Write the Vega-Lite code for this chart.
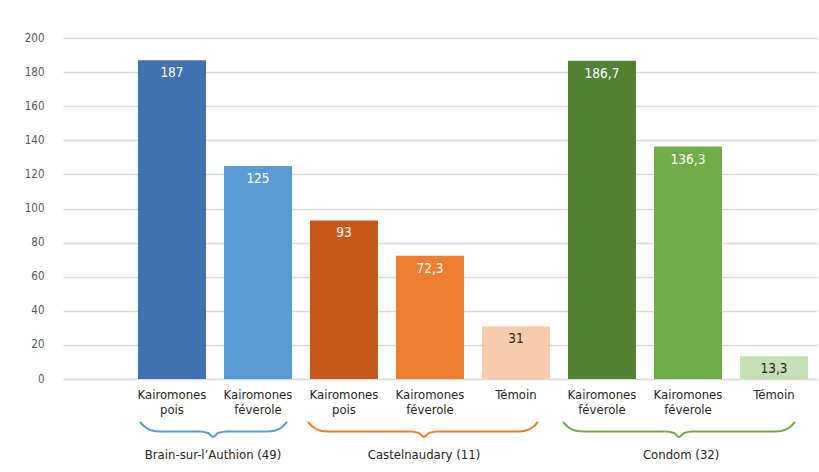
{
  "$schema": "https://vega.github.io/schema/vega-lite/v6.json",
  "width": 754,
  "height": 341,
  "autosize": {"type": "none"},
  "padding": {"left": 63, "top": 38, "right": 2, "bottom": 93},
  "background": "white",
  "config": {
    "view": {"stroke": null},
    "font": "DejaVu Sans Condensed, Roboto, sans-serif"
  },
  "datasets": {
    "bars": [
      {"cat": "Kairomones pois#1", "v": 187, "lbl": "187"},
      {"cat": "Kairomones féverole#2", "v": 125, "lbl": "125"},
      {"cat": "Kairomones pois#3", "v": 93, "lbl": "93"},
      {"cat": "Kairomones féverole#4", "v": 72.3, "lbl": "72,3"},
      {"cat": "Témoin#5", "v": 31, "lbl": "31"},
      {"cat": "Kairomones féverole#6", "v": 186.7, "lbl": "186,7"},
      {"cat": "Kairomones féverole#7", "v": 136.3, "lbl": "136,3"},
      {"cat": "Témoin#8", "v": 13.3, "lbl": "13,3"}
    ],
    "braces": [
      {"g": "B", "u": 0.128, "v": -25.2}, {"g": "B", "u": 0.186, "v": -28.2}, {"g": "B", "u": 0.267, "v": -30.2}, {"g": "B", "u": 0.360, "v": -30.8}, {"g": "B", "u": 0.814, "v": -30.8}, {"g": "B", "u": 0.919, "v": -31.7}, {"g": "B", "u": 0.977, "v": -34.0}, {"g": "B", "u": 1.035, "v": -31.7}, {"g": "B", "u": 1.140, "v": -30.8}, {"g": "B", "u": 1.605, "v": -30.8}, {"g": "B", "u": 1.698, "v": -30.2}, {"g": "B", "u": 1.779, "v": -28.2}, {"g": "B", "u": 1.837, "v": -25.2},
      {"g": "C", "u": 2.081, "v": -25.2}, {"g": "C", "u": 2.140, "v": -28.2}, {"g": "C", "u": 2.221, "v": -30.2}, {"g": "C", "u": 2.314, "v": -30.8}, {"g": "C", "u": 3.267, "v": -30.8}, {"g": "C", "u": 3.372, "v": -31.7}, {"g": "C", "u": 3.430, "v": -34.0}, {"g": "C", "u": 3.488, "v": -31.7}, {"g": "C", "u": 3.593, "v": -30.8}, {"g": "C", "u": 4.523, "v": -30.8}, {"g": "C", "u": 4.616, "v": -30.2}, {"g": "C", "u": 4.698, "v": -28.2}, {"g": "C", "u": 4.756, "v": -25.2},
      {"g": "D", "u": 5.047, "v": -25.2}, {"g": "D", "u": 5.105, "v": -28.2}, {"g": "D", "u": 5.186, "v": -30.2}, {"g": "D", "u": 5.279, "v": -30.8}, {"g": "D", "u": 6.233, "v": -30.8}, {"g": "D", "u": 6.337, "v": -31.7}, {"g": "D", "u": 6.395, "v": -34.0}, {"g": "D", "u": 6.453, "v": -31.7}, {"g": "D", "u": 6.558, "v": -30.8}, {"g": "D", "u": 7.512, "v": -30.8}, {"g": "D", "u": 7.605, "v": -30.2}, {"g": "D", "u": 7.686, "v": -28.2}, {"g": "D", "u": 7.744, "v": -25.2}
    ],
    "groups": [
      {"name": "Brain-sur-l’Authion (49)", "u": 0.977, "v": -44.6},
      {"name": "Castelnaudary (11)", "u": 3.43, "v": -44.6},
      {"name": "Condom (32)", "u": 6.42, "v": -44.6}
    ]
  },
  "layer": [
    {
      "data": {"name": "bars"},
      "encoding": {
        "x": {
          "field": "cat", "type": "nominal", "sort": null,
          "scale": {"paddingInner": 0.209, "paddingOuter": 0.488, "align": 0.893},
          "axis": {
            "title": null, "domain": false, "ticks": false,
            "labelAngle": 0, "labelFontSize": 13, "labelColor": "#262626",
            "labelPadding": 9, "labelLineHeight": 15, "labelBaseline": "top",
            "labelExpr": "split(split(datum.value, '#')[0], ' ')"
          }
        },
        "y": {
          "field": "v", "type": "quantitative",
          "scale": {"domain": [0, 200], "nice": false},
          "axis": {
            "title": null, "domain": false, "ticks": false,
            "values": [0, 20, 40, 60, 80, 100, 120, 140, 160, 180, 200],
            "gridColor": "#d9d9d9", "gridWidth": 1.5,
            "labelColor": "#595959", "labelFontSize": 11.5, "labelPadding": 19
          }
        }
      },
      "layer": [
        {
          "mark": {"type": "bar"},
          "encoding": {
            "color": {
              "field": "cat", "type": "nominal", "legend": null,
              "scale": {
                "domain": ["Kairomones pois#1", "Kairomones féverole#2", "Kairomones pois#3", "Kairomones féverole#4", "Témoin#5", "Kairomones féverole#6", "Kairomones féverole#7", "Témoin#8"],
                "range": ["#4271B1", "#5B9BD5", "#C55A1A", "#ED7D31", "#F8CBAD", "#548235", "#70AD47", "#C5E0B4"]
              }
            }
          }
        },
        {
          "mark": {"type": "text", "baseline": "middle", "dy": 13, "fontSize": 13.5},
          "encoding": {
            "text": {"field": "lbl"},
            "color": {"condition": {"test": "datum.v < 40", "value": "#262626"}, "value": "#ffffff"}
          }
        }
      ]
    },
    {
      "layer": [
        {
          "data": {"name": "braces"},
          "mark": {"type": "line", "interpolate": "monotone", "strokeWidth": 2},
          "encoding": {
            "x": {"field": "u", "type": "quantitative", "scale": {"domain": [0, 8], "range": [66, 754], "nice": false, "zero": false}, "axis": null},
            "y": {"field": "v", "type": "quantitative", "scale": {"domain": [0, 200], "nice": false}, "axis": null},
            "color": {"field": "g", "type": "nominal", "legend": null, "scale": {"domain": ["B", "C", "D"], "range": ["#5B9BD5", "#ED7D31", "#70AD47"]}}
          }
        },
        {
          "data": {"name": "groups"},
          "mark": {"type": "text", "baseline": "middle", "fontSize": 13, "color": "#262626"},
          "encoding": {
            "x": {"field": "u", "type": "quantitative", "scale": {"domain": [0, 8], "range": [66, 754], "nice": false, "zero": false}, "axis": null},
            "y": {"field": "v", "type": "quantitative", "scale": {"domain": [0, 200], "nice": false}, "axis": null},
            "text": {"field": "name"}
          }
        }
      ]
    }
  ],
  "resolve": {"scale": {"x": "independent", "color": "independent"}, "axis": {"x": "independent", "y": "independent"}}
}
